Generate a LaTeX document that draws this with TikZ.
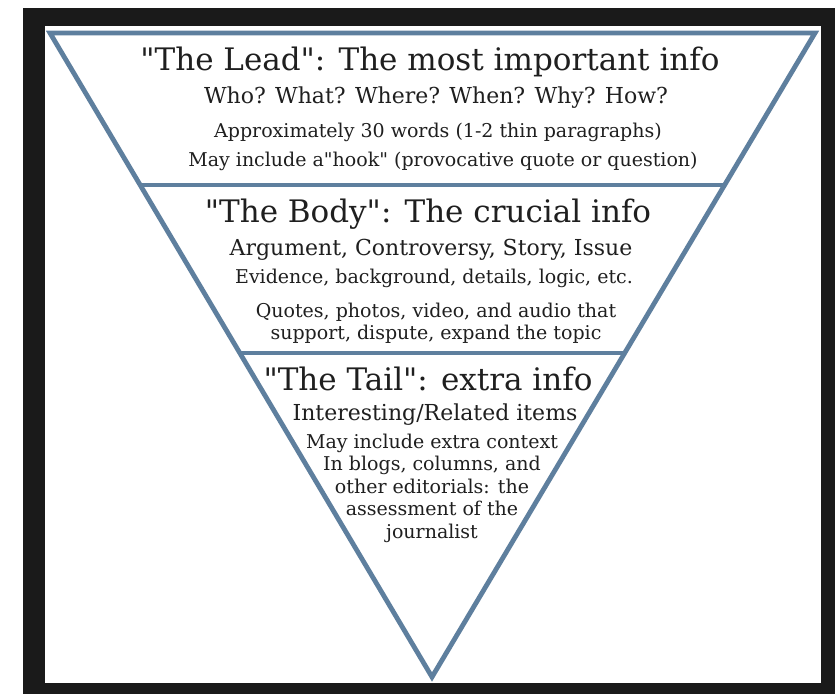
\documentclass[tikz,border=0pt]{standalone}
\usepackage{fontspec}
\setmainfont{DejaVu Serif}[Ligatures=TeXOff]
\usetikzlibrary{calc, positioning}

\definecolor{pyramidblue}{RGB}{94,127,158}
\definecolor{framegray}{RGB}{26,26,26}

\begin{document}
\begin{tikzpicture}[x=1pt, y=-1pt,
                    every node/.style={inner sep=0pt, anchor=base, text=black!88},
                    headline/.style={font=\fontsize{31}{34}\selectfont},
                    keyline/.style={font=\fontsize{22}{26}\selectfont},
                    noteline/.style={font=\fontsize{19}{22}\selectfont}]
                    \useasboundingbox (0,0) rectangle (835,694);
                    % frame round the picture
                    \fill[framegray] (23,8) rectangle (835,694);
                    \fill[white] (45,26) rectangle (821,683);

                    % the inverted pyramid
                    \coordinate (topleft) at (50,33);
                    \coordinate (topright) at (815,33);
                    \coordinate (apex) at (432,677);
                    \coordinate (leadleft) at ($(topleft)!0.236!(apex)$);
                    \coordinate (leadright) at ($(topright)!0.236!(apex)$);
                    \coordinate (bodyleft) at ($(topleft)!0.497!(apex)$);
                    \coordinate (bodyright) at ($(topright)!0.497!(apex)$);
                    \draw[pyramidblue, line width=4.8pt, line join=miter] (topleft) -- (topright) -- (apex) -- cycle;
                    \draw[pyramidblue, line width=4.8pt] (leadleft) -- (leadright);
                    \draw[pyramidblue, line width=4.8pt] (bodyleft) -- (bodyright);

                    % the lead
                    \node[headline](leadtitle) at (430,70) {"The Lead": The most important info};
                    \node[keyline](leadkey) at (436,103) {Who? What? Where? When? Why? How?};
                    \node[noteline](leadwords) at (438,137) {Approximately 30 words (1-2 thin paragraphs)};
                    \node[noteline](leadhook) at (443,166) {May include a"hook" (provocative quote or question)};

                    % the body
                    \node[headline](bodytitle) at (428,222) {"The Body": The crucial info};
                    \node[keyline](bodykey) at (431,255) {Argument, Controversy, Story, Issue};
                    \node[noteline](bodyevidence) at (434,283) {Evidence, background, details, logic, etc.};
                    \node[noteline](bodyquotes) at (436,317) {Quotes, photos, video, and audio that};
                    \node[noteline](bodysupport) at (436,339) {support, dispute, expand the topic};

                    % the tail
                    \node[headline](tailtitle) at (428,390) {"The Tail": extra info};
                    \node[keyline](tailkey) at (435,420) {Interesting/Related items};
                    \node[noteline](tailcontext) at (432,448) {May include extra context};
                    \node[noteline](tailblogs) at (432,470) {In blogs, columns, and};
                    \node[noteline](tailother) at (432,493) {other editorials: the};
                    \node[noteline](tailassess) at (432,515) {assessment of the};
                    \node[noteline](tailjournalist) at (432,538) {journalist};
                \end{tikzpicture}
\end{document}
